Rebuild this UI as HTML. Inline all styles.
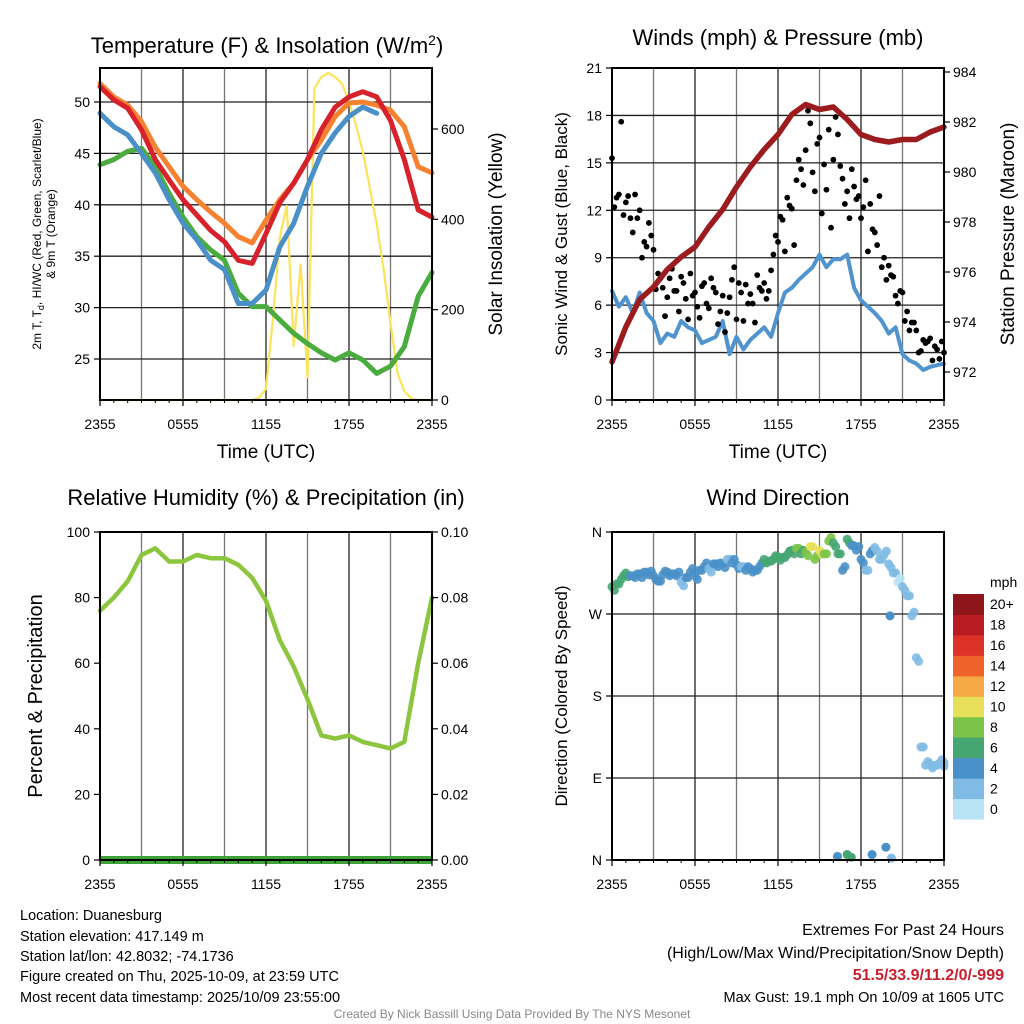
<!DOCTYPE html>
<html><head><meta charset="utf-8"><style>
html,body{margin:0;padding:0;background:#fff;}
svg{display:block;font-family:"Liberation Sans",Arial,sans-serif;}
</style></head><body>
<svg id="fig" width="1024" height="1024" viewBox="0 0 1024 1024" xmlns="http://www.w3.org/2000/svg">
<rect width="1024" height="1024" fill="#fff"/>
<g id="layer"></g>
<text x="267" y="53" font-size="22" text-anchor="middle">Temperature (F) &amp; Insolation (W/m<tspan dy="-8" font-size="14">2</tspan><tspan dy="8">)</tspan></text>
<text x="778" y="45" font-size="22" text-anchor="middle">Winds (mph) &amp; Pressure (mb)</text>
<text x="266" y="505" font-size="22" text-anchor="middle">Relative Humidity (%) &amp; Precipitation (in)</text>
<text x="778" y="505" font-size="22" text-anchor="middle">Wind Direction</text>
<text x="266" y="458" font-size="19" text-anchor="middle">Time (UTC)</text>
<text x="778" y="458" font-size="19" text-anchor="middle">Time (UTC)</text>
<text transform="translate(41,234) rotate(-90)" font-size="12" text-anchor="middle">2m T, T<tspan dy="3" font-size="9">d</tspan><tspan dy="-3">, HI/WC (Red, Green, Scarlet/Blue)</tspan></text>
<text transform="translate(55,234) rotate(-90)" font-size="12" text-anchor="middle">&amp; 9m T (Orange)</text>
<text transform="translate(502,234) rotate(-90)" font-size="19" text-anchor="middle">Solar Insolation (Yellow)</text>
<text transform="translate(567,234) rotate(-90)" font-size="17" text-anchor="middle">Sonic Wind &amp; Gust (Blue, Black)</text>
<text transform="translate(1014,234) rotate(-90)" font-size="19" text-anchor="middle">Station Pressure (Maroon)</text>
<text transform="translate(42,696) rotate(-90)" font-size="20" text-anchor="middle">Percent &amp; Precipitation</text>
<text transform="translate(567,696) rotate(-90)" font-size="17" text-anchor="middle">Direction (Colored By Speed)</text>
<g font-size="14.5">
<text x="20" y="920">Location: Duanesburg</text>
<text x="20" y="941">Station elevation: 417.149 m</text>
<text x="20" y="961">Station lat/lon: 42.8032; -74.1736</text>
<text x="20" y="981">Figure created on Thu, 2025-10-09, at 23:59 UTC</text>
<text x="20" y="1002">Most recent data timestamp: 2025/10/09 23:55:00</text>
</g>
<g text-anchor="end">
<text x="1004" y="935" font-size="16">Extremes For Past 24 Hours</text>
<text x="1004" y="958" font-size="16">(High/Low/Max Wind/Precipitation/Snow Depth)</text>
<text x="1004" y="980" font-size="16" font-weight="bold" fill="#c8202f">51.5/33.9/11.2/0/-999</text>
<text x="1004" y="1002" font-size="14.5">Max Gust: 19.1 mph On 10/09 at 1605 UTC</text>
</g>
<text x="512" y="1018" font-size="12" fill="#888" text-anchor="middle">Created By Nick Bassill Using Data Provided By The NYS Mesonet</text>
</svg>
<script>
// ---- data (hourly from 2355 UTC) ----
const xTickLabels = ["2355","0555","1155","1755","2355"];
const tempRed = [51.5,50.2,49.4,47.3,44.4,42.4,40.5,39.0,37.5,36.4,34.6,34.3,37.2,40.2,42.1,44.4,47.3,49.5,50.5,51.0,50.5,48.2,44.4,39.5,38.8];
const tempOrange = [51.8,50.5,49.7,48.1,45.6,43.7,41.8,40.5,39.3,38.2,36.9,36.3,38.5,40.5,42.1,44.4,46.3,48.6,49.9,50.0,49.7,49.2,47.6,43.7,43.1];
const heatIdxBlue = [48.9,47.6,46.8,45.0,43.1,40.5,38.2,36.6,34.6,33.7,30.4,30.4,31.7,35.9,38.2,41.8,45.0,47.0,48.6,49.5,48.9];
const dewGreen = [43.9,44.4,45.2,45.5,43.7,41.1,38.8,36.9,35.6,34.6,31.4,30.1,30.1,28.8,27.5,26.5,25.6,24.9,25.6,24.9,23.6,24.3,26.2,31.1,33.4];
// half-hourly insolation
const insolation = [0,0,0,0,0,0,0,0,0,0,0,0,0,0,0,0,0,0,0,0,0,0,0,5,25,180,360,430,120,300,50,690,715,724,715,700,660,610,550,470,390,290,170,60,20,3,0,0,0];
const tempTicks = [25,30,35,40,45,50];
const insTicks = [0,200,400,600];
// winds (half-hourly)
const windSpeed = [6.9,5.9,6.5,5.5,6.8,5.5,5.0,3.6,4.2,4.0,5.0,4.6,4.4,3.6,3.8,4.0,5.0,2.9,4.0,3.2,3.8,4.2,4.6,4.0,5.5,6.8,7.1,7.6,8.0,8.4,9.2,8.4,8.9,8.9,9.2,7.1,6.3,5.9,5.5,5.0,4.2,4.6,2.9,2.5,2.3,1.9,2.1,2.2,2.3];
// gusts at 20-min steps
const gusts = [15.3,12.8,17.6,12.5,11.5,13.0,12.0,10.0,11.2,9.5,8.0,7.1,6.5,8.3,6.9,7.8,6.4,8.0,6.8,5.2,7.4,5.8,7.1,4.8,6.6,5.5,7.6,5.1,6.8,7.3,6.7,4.9,7.1,7.4,6.9,9.2,10.0,11.4,12.8,12.1,13.9,14.6,15.8,17.5,13.2,16.6,14.9,17.1,15.2,16.8,14.0,13.2,14.6,12.7,11.5,13.9,12.4,10.6,12.9,9.0,8.5,7.8,6.1,6.8,5.6,4.9,4.4,3.1,3.6,3.9,3.4,2.6,3.0];
const gusts2 = [12.2,13.0,11.7,12.9,10.6,11.5,9.0,9.7,10.4,7.0,7.7,5.3,7.7,6.9,5.6,7.4,5.1,6.6,5.9,7.2,6.1,7.7,6.8,5.6,4.3,6.5,8.4,7.4,5.0,6.1,6.1,7.9,6.9,6.4,8.2,10.4,11.6,9.4,12.3,9.8,15.2,13.6,18.3,14.4,16.2,11.8,13.3,10.9,17.9,14.8,12.4,11.5,13.5,12.9,12.2,9.4,10.8,9.8,8.4,7.6,7.9,6.6,6.9,5.0,4.4,4.9,3.0,3.8,3.7,2.5,3.2,3.7];
const pressure = [972.4,973.8,974.9,975.4,976.1,976.6,977.0,977.8,978.5,979.4,980.2,980.9,981.5,982.3,982.7,982.5,982.6,982.1,981.5,981.3,981.2,981.3,981.3,981.6,981.8];
const windTicks = [0,3,6,9,12,15,18,21];
const presTicks = [972,974,976,978,980,982,984];
// RH (hourly) and precip
const rh = [76,80,85,93,95,91,91,93,92,92,90,86,79,67,59,49,38,37,38,36,35,34,36,60,80];
const precip = [0,0,0,0,0,0,0,0,0,0,0,0,0,0,0,0,0,0,0,0,0,0,0,0,0];
const rhTicks = [0,20,40,60,80,100];
const precipTicks = ["0.00","0.02","0.04","0.06","0.08","0.10"];
// wind direction (20-min)
const windDir = [300,303,308,315,312,310,314,316,313,312,306,313,316,314,312,305,310,316,312,318,322,320,325,322,325,330,326,324,322,318,320,318,322,330,328,330,333,332,335,340,342,336,338,344,330,340,336,350,348,336,318,352,345,340,330,318,336,343,330,335,325,315,305,300,290,268,222,124,104,105,104,106,107];
const dirSpeed = [6,6,7,6,5,5,4,5,4,4,5,4,4,5,4,3,4,4,5,4,4,3,4,5,4,3,4,4,3,4,4,5,4,6,6,7,6,7,7,7,8,7,9,10,9,10,9,8,7,6,4,6,5,4,4,3,4,3,3,2,2,2,1,2,2,2,2,2,2,2,2,2,2];
const outlierHour = [16.3,17.0,17.3,18.8,19.8,20.1,20.2];
const outlierDir = [4,6,3,6,14,268,2];
const outlierSpeed = [4,6,7,5,4,4,2];
const dirTicks = ["N","E","S","W","N"];
const speedBins = ["0","2","4","6","8","10","12","14","16","18","20+"];
const binColors = ["#b8e3f7","#7fbbe4","#4a90c8","#46a672","#7cc34a","#e8e05a","#f7a945","#ef632a","#dc3227","#ba1c24","#8e1519"];

const NS="http://www.w3.org/2000/svg";
const layer=document.getElementById('layer');
function mk(tag,attrs,parent){const e=document.createElementNS(NS,tag);for(const k in attrs)e.setAttribute(k,attrs[k]);(parent||layer).appendChild(e);return e;}
function lin(d0,d1,r0,r1){return v=>r0+(v-d0)*(r1-r0)/(d1-d0);}

const P1={x0:100,x1:432,y0:68,y1:400}, P2={x0:612,x1:944,y0:68,y1:400}, P3={x0:100,x1:432,y0:532,y1:860}, P4={x0:612,x1:944,y0:532,y1:860};

function frameGrid(P,name,hgrid){
  const g=mk('g',{});
  
  
  const xs=lin(0,24,P.x0,P.x1);
  for(let h=3;h<24;h+=3){mk('line',{x1:xs(h),x2:xs(h),y1:P.y0,y2:P.y1,stroke:h%6?'#777':'#222','stroke-width':1.3},g);}
  hgrid.forEach(y=>mk('line',{x1:P.x0,x2:P.x1,y1:y,y2:y,stroke:'#222','stroke-width':1.3},g));
  return xs;
}
function frame(P,name){
  const r=mk('rect',{x:P.x0,y:P.y0,width:P.x1-P.x0,height:P.y1-P.y0,fill:'none',stroke:'#000','stroke-width':2});
  
  
}
function xTicks(P,name){
  const xs=lin(0,24,P.x0,P.x1);
  const g=mk('g',{'font-size':14,'text-anchor':'middle'});
  
  
  xTickLabels.forEach((t,i)=>{const x=xs(i*6);mk('line',{x1:x,x2:x,y1:P.y1,y2:P.y1+6,stroke:'#000','stroke-width':1.2},g);const tx=mk('text',{x:x,y:P.y1+29},g);tx.textContent=t;});
  for(let h=1;h<24;h++){if(h%6)mk('line',{x1:xs(h),x2:xs(h),y1:P.y1,y2:P.y1+3,stroke:'#000'},g);}
}
function yTicks(P,vals,ys,side,name,labels){
  const g=mk('g',{'font-size':14,'text-anchor':side==='l'?'end':'start'});
  
  
  vals.forEach((v,i)=>{const y=ys(v);const x=side==='l'?P.x0:P.x1;
    mk('line',{x1:x,x2:side==='l'?x-6:x+6,y1:y,y2:y,stroke:'#000','stroke-width':1.2},g);
    const t=mk('text',{x:side==='l'?x-10:x+9,y:y+5},g);t.textContent=labels?labels[i]:v;});
}
function path(pts,attrs,name){
  const d=pts.map((p,i)=>(i?'L':'M')+p[0].toFixed(1)+','+p[1].toFixed(1)).join('');
  const e=mk('path',Object.assign({d:d,fill:'none','stroke-linejoin':'round','stroke-linecap':'round'},attrs));
  
  
  return e;
}
function series(arr,xs,ys){const step=24/(arr.length-1);return arr.map((v,i)=>[xs(i*step),ys(v)]);}
function seriesH(arr,xs,ys){return arr.map((v,i)=>[xs(i),ys(v)]);}

// ---------- Panel 1 ----------
{
 const yT=lin(25,50,359,102), yI=lin(0,600,400,129);
 const xs=frameGrid(P1,'temp',tempTicks.map(yT));
 path(series(insolation,xs,yI),{stroke:'#fbe35a','stroke-width':2.2},'insolation-line');
 path(seriesH(dewGreen,xs,yT),{stroke:'#4aab3e','stroke-width':5},'dewpoint-line');
 path(seriesH(tempOrange,xs,yT),{stroke:'#f58230','stroke-width':5},'temp-9m-line');
 path(seriesH(tempRed,xs,yT),{stroke:'#d7222b','stroke-width':5},'temp-2m-line');
 path(seriesH(heatIdxBlue,xs,yT),{stroke:'#4a90c8','stroke-width':5},'heat-index-line');
 frame(P1,'temp');xTicks(P1,'temp');
 yTicks(P1,tempTicks,yT,'l','temp-y-ticks');yTicks(P1,insTicks,yI,'r','insolation-y-ticks');
}
// ---------- Panel 2 ----------
{
 const yW=lin(0,21,400,68), yP=lin(972,984,372,72);
 const xs=frameGrid(P2,'wind',windTicks.slice(1,-1).map(yW));
 path(series(windSpeed,xs,yW),{stroke:'#4f94cf','stroke-width':4},'wind-speed-line');
 const g=mk('g',{fill:'#000'});
 
 
 [[gusts,0],[gusts2,1/6]].forEach(([arr,off])=>{arr.forEach((v,i)=>{const t=Math.min(24,i/3+off);const c=mk('circle',{cx:xs(t),cy:yW(v),r:2.9},g);});});
 path(seriesH(pressure,xs,yP),{stroke:'#9b1b1e','stroke-width':5.5},'pressure-line');
 frame(P2,'wind');xTicks(P2,'wind');
 yTicks(P2,windTicks,yW,'l','wind-y-ticks');yTicks(P2,presTicks,yP,'r','pressure-y-ticks');
}
// ---------- Panel 3 ----------
{
 const yR=lin(0,100,860,532), yPr=lin(0,0.1,860,532);
 const xs=frameGrid(P3,'rh',[]);
 path(seriesH(rh,xs,yR),{stroke:'#8cc63f','stroke-width':4.5},'rh-line');
 path(seriesH(precip,xs,yPr),{stroke:'#3fa13a','stroke-width':8,'stroke-linecap':'butt'},'precip-line');
 frame(P3,'rh');xTicks(P3,'rh');
 yTicks(P3,rhTicks,yR,'l','rh-y-ticks');
 yTicks(P3,precipTicks.map(Number),yPr,'r','precip-y-ticks',precipTicks);
}
// ---------- Panel 4 ----------
{
 const yD=lin(0,360,860,532);
 const xs=frameGrid(P4,'dir',[90,180,270].map(yD));
 const col=s=>binColors[Math.min(10,Math.floor(s/2))];
 const g=mk('g',{});
 
 
 const st=24/(windDir.length-1);
 windDir.forEach((d,i)=>{const c=mk('circle',{cx:xs(i*st),cy:yD(d),r:4.5,fill:col(dirSpeed[i]),'fill-opacity':0.9},g);
   const c2=mk('circle',{cx:xs(Math.min(24,i*st+0.17)),cy:yD(d+((i%3)-1)*4),r:4.5,fill:col(dirSpeed[i]),'fill-opacity':0.9},g);});
 outlierHour.forEach((h,i)=>{const c=mk('circle',{cx:xs(h),cy:yD(outlierDir[i]),r:4.5,fill:col(outlierSpeed[i])},g);});
 frame(P4,'dir');xTicks(P4,'dir');
 yTicks(P4,[0,90,180,270,360],yD,'l','dir-y-ticks',dirTicks);
 const cb=mk('g',{});
 
 
 const bh=225/11;
 speedBins.forEach((lab,i)=>{const k=10-i;const y=594+k*bh;
   const r=mk('rect',{x:953,y:y,width:31,height:bh+0.5,fill:binColors[i]},cb);
   const t=mk('text',{x:990,y:y+bh/2+5,'font-size':14},cb);t.textContent=lab;});
 const u=mk('text',{x:990,y:587,'font-size':14},cb);u.textContent='mph';
}
</script>
</body></html>
